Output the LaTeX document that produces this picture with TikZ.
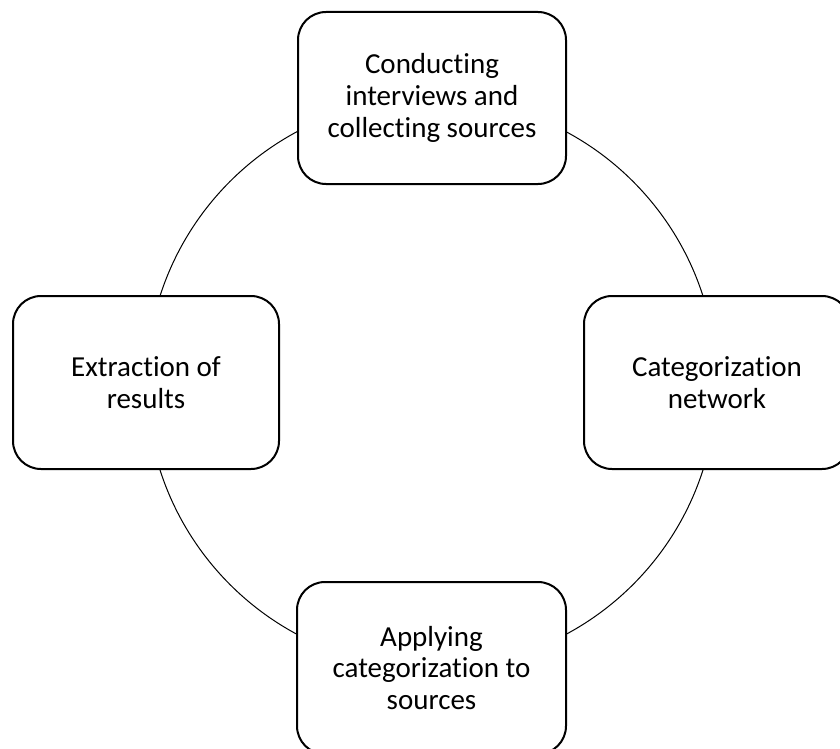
\documentclass[tikz,border=0pt]{standalone}
\usepackage{fontspec}
\setmainfont{Carlito}[Ligatures=NoCommon]
\begin{document}
\begin{tikzpicture}[x=1pt,y=-1pt,
  stage/.style={draw=black, line width=2pt, fill=white, rounded corners=28pt,
    align=center, inner sep=0pt, font=\fontsize{29}{31.7}\selectfont},
  ring/.style={draw=black, line width=1pt, circle, inner sep=0pt}]
\useasboundingbox (0,0) rectangle (840,749);
\node[ring, minimum size=570pt] (cycle) at (431.5,383) {};
\node[stage, minimum width=268pt, minimum height=172pt] (collect) at (432,98)
  {Conducting\\interviews and\\collecting sources};
\node[stage, minimum width=266pt, minimum height=173pt] (extract) at (146,382.5)
  {Extraction of\\results};
\node[stage, minimum width=266pt, minimum height=173pt] (network) at (717,382.5)
  {Categorization\\network};
\node[stage, minimum width=269pt, minimum height=172pt] (apply) at (431.5,668)
  {Applying\\categorization to\\sources};
\end{tikzpicture}
\end{document}
